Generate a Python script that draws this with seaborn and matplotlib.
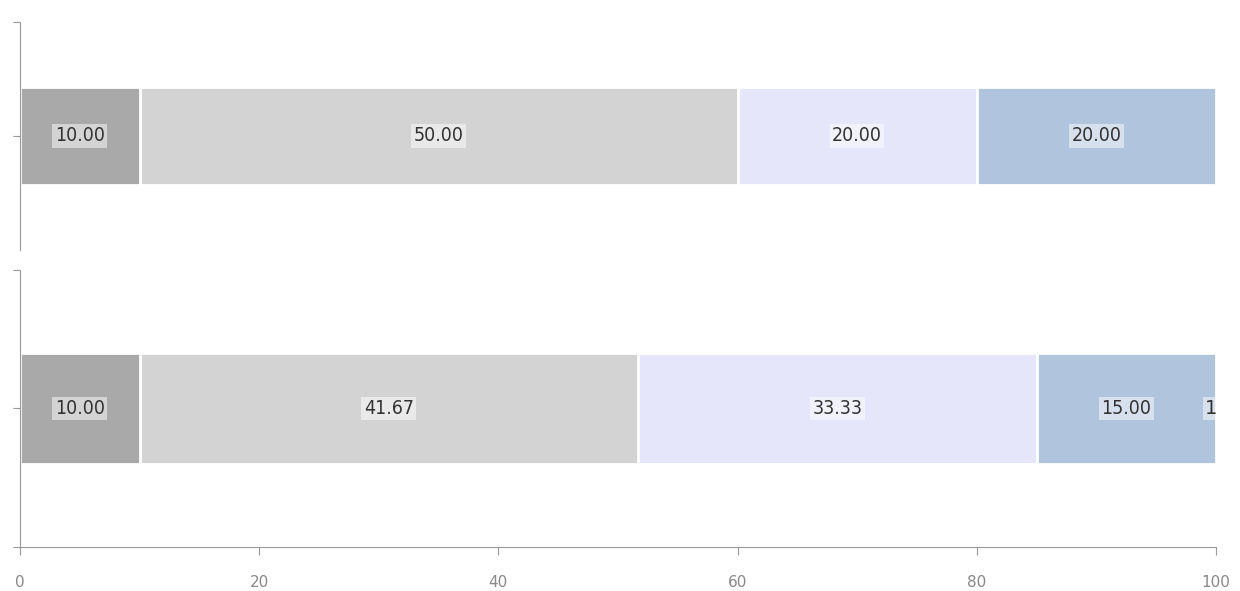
import numpy as np
import pandas as pd
import seaborn as sns
import matplotlib.pyplot as plt

series = ["s1", "s2", "s3", "s4"]
colors = ["#A9A9A9", "#D3D3D3", "#E6E6FA", "#B0C4DE"]
top_values = [10.00, 50.00, 20.00, 20.00]
bottom_values = [10.00, 41.67, 33.33, 15.00]
bottom_total_label = "100.00"
x_ticks = [0, 20, 40, 60, 80, 100]

sns.set_style("white")
plt.rcParams["font.family"] = ["DejaVu Sans"]

fig = plt.figure(figsize=(12.4, 5.91), dpi=100)
ax_top = fig.add_axes([0.0161, 0.577, 0.9645, 0.386])
ax_bot = fig.add_axes([0.0161, 0.0745, 0.9645, 0.4687])


def stacked(ax, values, bar_h):
    cum = np.cumsum(values)
    # longest first, so the shorter cumulative bars sit on top
    for i in range(len(values) - 1, -1, -1):
        df = pd.DataFrame({"v": [cum[i]], "c": ["a"]})
        sns.barplot(data=df, x="v", y="c", orient="h", color=colors[i],
                    saturation=1, width=bar_h, edgecolor="white",
                    linewidth=2, ax=ax)
    left = 0
    for v in values:
        ax.text(left + v / 2, 0, f"{v:.2f}", ha="center", va="center",
                fontsize=14, color="#333333", fontstretch="condensed",
                bbox=dict(boxstyle="square,pad=0.12", fc="white",
                          ec="none", alpha=0.5))
        left += v


stacked(ax_top, top_values, 0.43)
stacked(ax_bot, bottom_values, 0.40)
ax_bot.text(99.1, 0, bottom_total_label, ha="left", va="center",
            fontsize=14, color="#333333", clip_on=True,
            bbox=dict(boxstyle="square,pad=0.12", fc="white", ec="none",
                      alpha=0.5))

for ax in (ax_top, ax_bot):
    ax.set_xlim(0, 100)
    ax.set_ylim(0.5, -0.5)
    ax.set_xlabel("")
    ax.set_ylabel("")
    for s in ("top", "right"):
        ax.spines[s].set_visible(False)
    ax.spines["left"].set_color("#999999")
    ax.spines["bottom"].set_color("#999999")
    ax.tick_params(axis="y", length=5, color="#999999", labelleft=False,
                   left=True)
    ax.set_yticks([-0.5, 0])

ax_top.spines["bottom"].set_visible(False)
ax_top.tick_params(axis="x", bottom=False, labelbottom=False)
ax_bot.set_yticks([-0.5, 0, 0.5])
ax_bot.set_xticks(x_ticks)
ax_bot.set_xticklabels([str(t) for t in x_ticks])
ax_bot.tick_params(axis="x", length=6, color="#999999", labelcolor="#888888",
                   labelsize=11, bottom=True, pad=14)

fig.savefig("out.png", dpi=100)
